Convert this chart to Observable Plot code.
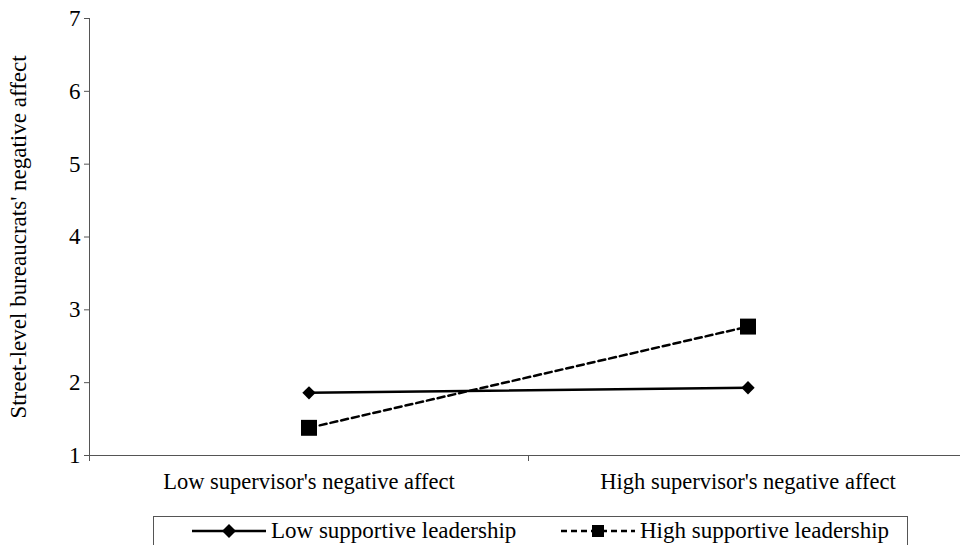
<!DOCTYPE html>
<html>
<head>
<meta charset="utf-8">
<script src="https://cdn.jsdelivr.net/npm/d3@7"></script>
<script src="https://cdn.jsdelivr.net/npm/@observablehq/plot@0.6"></script>
<style>
  html, body { margin: 0; padding: 0; background: #fff; }
  body { width: 960px; height: 545px; overflow: hidden; font-family: "Liberation Serif", "Times New Roman", serif; }
  #chart text { font-family: "Liberation Serif", serif !important; font-variant: normal !important; font-variant-numeric: normal !important; }
  #legend { position: absolute; left: 153px; top: 516px; width: 755px; height: 40px; border: 1px solid #555; box-sizing: border-box; }
  .item { position: absolute; top: 1px; display: flex; align-items: center; font-size: 23px; color: #000; }
  .item svg { margin-right: 4px; }
</style>
</head>
<body>
<div id="chart"></div>
<div id="legend"></div>
<script>
const categories = ["Low supervisor's negative affect", "High supervisor's negative affect"];
const seriesNames = ["Low supportive leadership", "High supportive leadership"];
const lowSupportive = [1.86, 1.93];
const highSupportive = [1.38, 2.77];
const yTicks = [1, 2, 3, 4, 5, 6, 7];

const data = [];
categories.forEach((c, i) => {
  data.push({cat: c, x: i + 0.5, y: lowSupportive[i], series: seriesNames[0]});
  data.push({cat: c, x: i + 0.5, y: highSupportive[i], series: seriesNames[1]});
});
const low = data.filter(d => d.series === seriesNames[0]);
const high = data.filter(d => d.series === seriesNames[1]);
const catData = categories.map((c, i) => ({cat: c, x: i + 0.5}));
const serif = "'Liberation Serif', serif";

const chart = Plot.plot({
  width: 960,
  height: 510,
  marginLeft: 89,
  marginRight: -7,
  marginTop: 18,
  marginBottom: 55,
  style: {fontFamily: serif, fontSize: "22px", color: "#000", background: "transparent", overflow: "visible"},
  x: {domain: [0, 2], axis: null},
  y: {domain: [1, 7], axis: null},
  marks: [
    Plot.axisY(yTicks, {tickSize: 5, stroke: "#555", text: null, label: null}),
    Plot.text(yTicks, {y: d => d, text: d => "" + d, frameAnchor: "left", textAnchor: "end", dx: -9, fontSize: 23, fontFamily: serif, fontVariant: "normal", fill: "#000"}),
    Plot.axisX([0, 1, 2], {tickSize: 6, stroke: "#555", text: null, label: null}),
    Plot.ruleX([0], {stroke: "#555"}),
    Plot.ruleY([1], {stroke: "#555"}),
    Plot.text(catData, {x: "x", y: 1, text: "cat", dy: 26, fontSize: 22.5, fontFamily: serif, fill: "#000"}),
    Plot.text(["Street-level bureaucrats' negative affect"], {frameAnchor: "left", textAnchor: "middle", rotate: -90, dx: -71, fontSize: 23, fontFamily: serif, fill: "#000"}),
    Plot.line(low, {x: "x", y: "y", stroke: "#000", strokeWidth: 2.5}),
    Plot.line(high, {x: "x", y: "y", stroke: "#000", strokeWidth: 2.5, strokeDasharray: "7,4"}),
    Plot.dot(low, {x: "x", y: "y", symbol: "diamond2", r: 6, fill: "#000", stroke: "none"}),
    Plot.dot(high, {x: "x", y: "y", symbol: "square", r: 9, fill: "#000", stroke: "none"})
  ]
});
document.getElementById("chart").appendChild(chart);

// Legend
const legend = document.getElementById("legend");
const items = [
  {name: seriesNames[0], left: 37, dash: null, symbol: "diamond"},
  {name: seriesNames[1], left: 406, dash: "6,4", symbol: "square"}
];
items.forEach(it => {
  const div = document.createElement("div");
  div.className = "item";
  div.style.left = it.left + "px";
  const ns = "http://www.w3.org/2000/svg";
  const s = document.createElementNS(ns, "svg");
  s.setAttribute("width", 76); s.setAttribute("height", 24);
  const ln = document.createElementNS(ns, "line");
  ln.setAttribute("x1", 1); ln.setAttribute("x2", 75); ln.setAttribute("y1", 12); ln.setAttribute("y2", 12);
  ln.setAttribute("stroke", "#000"); ln.setAttribute("stroke-width", 2.5);
  if (it.dash) ln.setAttribute("stroke-dasharray", it.dash);
  s.appendChild(ln);
  if (it.symbol === "diamond") {
    const p = document.createElementNS(ns, "path");
    p.setAttribute("d", "M38,5 L45,12 L38,19 L31,12 Z"); p.setAttribute("fill", "#000");
    s.appendChild(p);
  } else {
    const r = document.createElementNS(ns, "rect");
    r.setAttribute("x", 32); r.setAttribute("y", 6); r.setAttribute("width", 12); r.setAttribute("height", 12); r.setAttribute("fill", "#000");
    s.appendChild(r);
  }
  div.appendChild(s);
  const t = document.createElement("span");
  t.textContent = it.name;
  div.appendChild(t);
  legend.appendChild(div);
});
</script>
</body>
</html>
